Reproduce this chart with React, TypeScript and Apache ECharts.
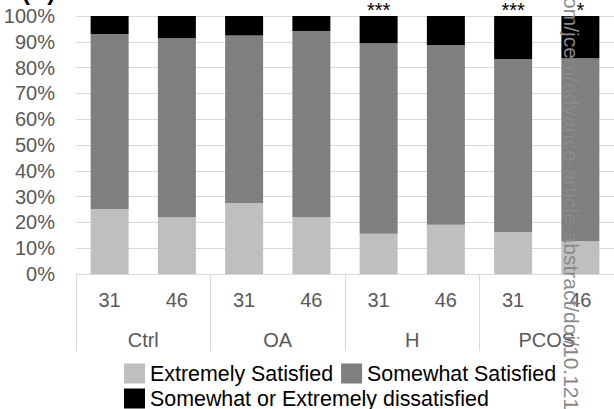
import React, { useEffect, useRef } from "react";
import * as echarts from "echarts";

const categories = ["31", "46", "31", "46", "31", "46", "31", "46"];
const groups = ["Ctrl", "OA", "H", "PCOS"];
const extremelySatisfied = [25.2, 22.0, 27.5, 22.0, 15.6, 19.1, 16.3, 12.7];
const somewhatSatisfied = [67.8, 69.4, 64.9, 72.2, 73.8, 69.7, 67.0, 70.9];
const dissatisfied = [7.0, 8.6, 7.6, 5.8, 10.6, 11.2, 16.7, 16.4];
const significance = ["", "", "", "", "***", "", "***", "*"];
const seriesNames = [
  "Extremely Satisfied",
  "Somewhat Satisfied",
  "Somewhat or Extremely dissatisfied",
];
const seriesColors = ["#BFBFBF", "#7F7F7F", "#000000"];
const panelLabel = "(A)";
const watermark = "om/jcem/advance-article-abstract/doi/10.1210";

const FONT = "Liberation Sans, Arial, sans-serif";

export default function App() {
  const ref = useRef<HTMLDivElement>(null);
  useEffect(() => {
    if (!ref.current) return;
    document.body.style.margin = "0";
    const chart = echarts.init(ref.current, undefined, { renderer: "svg" });
    const values = [extremelySatisfied, somewhatSatisfied, dissatisfied];
    const legendBase = {
      left: 124,
      itemWidth: 21,
      itemHeight: 20,
      itemGap: 8,
      icon: "rect",
      padding: 0,
      textStyle: { fontSize: 21.4, color: "#000", fontFamily: FONT },
    };
    chart.setOption({
      animation: false,
      textStyle: { fontFamily: FONT },
      grid: { left: 76, right: 0, top: 16, bottom: 135, containLabel: false },
      legend: [
        { ...legendBase, top: 363, data: seriesNames.slice(0, 2) },
        { ...legendBase, top: 388, data: seriesNames.slice(2) },
      ],
      xAxis: [
        {
          type: "category",
          data: categories,
          position: "bottom",
          axisLine: { show: true, lineStyle: { color: "#D9D9D9", width: 1 } },
          axisTick: { show: false },
          axisLabel: {
            color: "#595959",
            fontSize: 20,
            margin: 16,
            lineHeight: 20,
            fontFamily: FONT,
            interval: 0,
          },
          z: 5,
        },
        {
          type: "category",
          data: groups,
          position: "bottom",
          axisLine: { show: false },
          axisTick: {
            show: true,
            length: 77,
            interval: 0,
            lineStyle: { color: "#D9D9D9", width: 1 },
          },
          axisLabel: {
            color: "#595959",
            fontSize: 20,
            margin: 56,
            lineHeight: 20,
            fontFamily: FONT,
            interval: 0,
          },
        },
      ],
      yAxis: {
        type: "value",
        min: 0,
        max: 100,
        interval: 10,
        axisLine: { show: false },
        axisTick: { show: false },
        splitLine: { lineStyle: { color: "#D9D9D9", width: 1 } },
        axisLabel: {
          formatter: "{value}%",
          color: "#595959",
          fontSize: 20,
          margin: 21,
          fontFamily: FONT,
        },
      },
      series: seriesNames.map((name, i) => ({
        name,
        type: "bar",
        stack: "total",
        xAxisIndex: 0,
        barCategoryGap: "43.5%",
        itemStyle: { color: seriesColors[i] },
        data: values[i],
        label:
          i === 2
            ? {
                show: true,
                position: "top",
                distance: 0,
                lineHeight: 12,
                color: "#000",
                fontSize: 20,
                fontFamily: FONT,
                formatter: (p: any) => significance[p.dataIndex],
              }
            : { show: false },
      })),
      graphic: [
        {
          type: "text",
          left: 22,
          top: -21,
          z: 100,
          style: {
            text: panelLabel,
            font: "bold 24px " + FONT,
            fill: "#000",
          },
        },
        {
          type: "text",
          x: 571,
          y: -3,
          rotation: -Math.PI / 2,
          z: 100,
          style: {
            text: watermark,
            font: "21px " + FONT,
            fill: "#8a8a8a",
            align: "left",
            verticalAlign: "middle",
          },
        },
      ],
    });
    return () => chart.dispose();
  }, []);
  return <div ref={ref} style={{ width: 614, height: 409 }} />;
}
